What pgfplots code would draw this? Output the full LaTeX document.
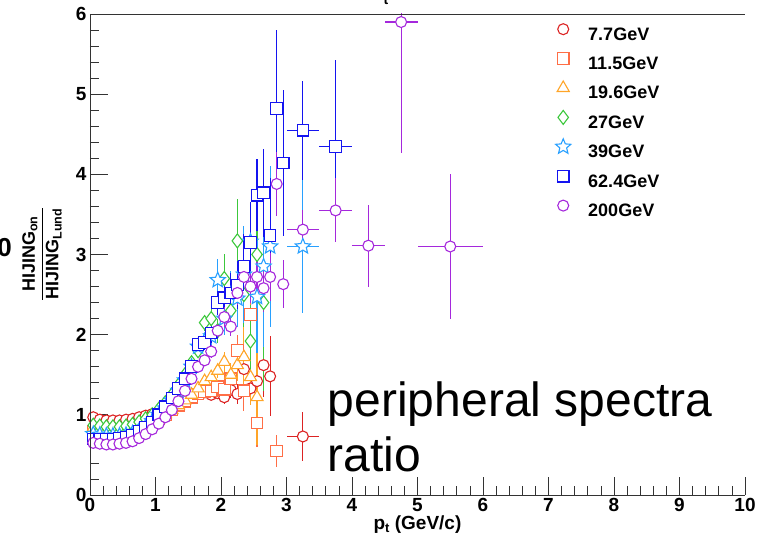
\documentclass[border=0pt]{standalone}
\usepackage{fontspec}
\setmainfont{Liberation Sans}
\usepackage{pgfplots}
\pgfplotsset{compat=1.18}
\usetikzlibrary{plotmarks}
\definecolor{c77}{RGB}{220,35,35}
\definecolor{c115}{RGB}{255,110,70}
\definecolor{c196}{RGB}{255,165,40}
\definecolor{c27}{RGB}{60,200,60}
\definecolor{c39}{RGB}{40,160,255}
\definecolor{c624}{RGB}{20,20,240}
\definecolor{c200}{RGB}{165,40,220}
\pgfdeclareplotmark{ostar}{%
  \pgfpathmoveto{\pgfqpointpolar{90}{\pgfplotmarksize}}%
  \pgfpathlineto{\pgfqpointpolar{126}{0.45\pgfplotmarksize}}%
  \pgfpathlineto{\pgfqpointpolar{162}{\pgfplotmarksize}}%
  \pgfpathlineto{\pgfqpointpolar{198}{0.45\pgfplotmarksize}}%
  \pgfpathlineto{\pgfqpointpolar{234}{\pgfplotmarksize}}%
  \pgfpathlineto{\pgfqpointpolar{270}{0.45\pgfplotmarksize}}%
  \pgfpathlineto{\pgfqpointpolar{306}{\pgfplotmarksize}}%
  \pgfpathlineto{\pgfqpointpolar{342}{0.45\pgfplotmarksize}}%
  \pgfpathlineto{\pgfqpointpolar{18}{\pgfplotmarksize}}%
  \pgfpathlineto{\pgfqpointpolar{54}{0.45\pgfplotmarksize}}%
  \pgfpathclose
  \pgfusepathqfillstroke}
\pgfplotsset{
  eb/.style={only marks,
    error bars/x dir=both, error bars/x explicit,
    error bars/y dir=both, error bars/y explicit,
    error bars/error mark=none,
    error bars/error bar style={line width=1.1pt},
    mark options={fill=white, line width=1.1pt, solid},
    legend image code/.code={\path[draw=none, fill=none, use as bounding box] (0pt,-2pt) rectangle (17pt,12pt);
      \draw[##1] plot coordinates {(8.5pt,6pt)};}},
}
\newcommand{\bfont}[1]{\bfseries\fontsize{#1}{#1}\selectfont}
\begin{document}
\begin{tikzpicture}
\begin{axis}[
  at={(0,0)}, anchor=south west,
  width=655pt, height=481pt, scale only axis,
  xmin=0, xmax=10, ymin=0, ymax=6,
  axis line style={draw=none},
  tick align=inside, tick pos=left,
  major tick length=18pt, minor tick length=9pt, minor tick num=4,
  tick style={black!80, line width=0.8pt},
  xtick={0,1,2,3,4,5,6,7,8,9,10}, xticklabels={0,1,2,3,4,5,6,7,8,9,10},
  ytick={0,1,2,3,4,5,6}, yticklabels={0,1,2,3,4,5,6},
  ticklabel style={font=\bfont{19}},
  xlabel={p\raisebox{-0.35ex}{\fontsize{13}{13}\selectfont t} (GeV/c)},
  xlabel style={font=\bfont{19}, at={(axis description cs:0.5,-0.0707)}, anchor=base},
  legend style={at={(axis description cs:0.7092,0.9813)}, anchor=north west,
    draw=none, fill=none, inner sep=0pt, row sep=10.4pt,
    font=\bfont{18},
    nodes={inner sep=0pt, text height=12pt, text depth=2pt},
    /tikz/every odd column/.append style={column sep=16.5pt}},
  legend cell align=left,
]
\addplot[eb, color=c77, mark=*, mark size=5.5pt] table[x=x,y=y,x error=ex,y error=ey] {
x y ex ey
0.05 0.97 0.05 0.01
0.15 0.94 0.05 0.01
0.25 0.93 0.05 0.01
0.35 0.93 0.05 0.01
0.45 0.93 0.05 0.01
0.55 0.94 0.05 0.01
0.65 0.95 0.05 0.01
0.75 0.97 0.05 0.01
0.85 0.99 0.05 0.01
0.95 1.01 0.05 0.015
1.05 1.04 0.05 0.015
1.15 1.08 0.05 0.02
1.25 1.12 0.05 0.02
1.35 1.16 0.05 0.025
1.45 1.20 0.05 0.03
1.55 1.24 0.05 0.035
1.65 1.27 0.05 0.04
1.75 1.28 0.05 0.05
1.85 1.25 0.05 0.06
1.95 1.27 0.05 0.07
2.05 1.22 0.05 0.08
2.15 1.31 0.05 0.10
2.25 1.26 0.05 0.12
2.35 1.57 0.05 0.15
2.45 1.33 0.05 0.18
2.55 1.42 0.05 0.30
2.65 1.62 0.05 0.40
2.75 1.48 0.05 0.50
3.25 0.73 0.25 0.30
};
\addlegendentry{7.7GeV}
\addplot[eb, color=c115, mark=square*, mark size=5.8pt] table[x=x,y=y,x error=ex,y error=ey] {
x y ex ey
0.05 0.80 0.05 0.01
0.15 0.79 0.05 0.01
0.25 0.78 0.05 0.01
0.35 0.78 0.05 0.01
0.45 0.78 0.05 0.01
0.55 0.79 0.05 0.01
0.65 0.80 0.05 0.01
0.75 0.82 0.05 0.01
0.85 0.86 0.05 0.01
0.95 0.90 0.05 0.015
1.05 0.95 0.05 0.015
1.15 1.00 0.05 0.02
1.25 1.06 0.05 0.02
1.35 1.12 0.05 0.025
1.45 1.17 0.05 0.03
1.55 1.22 0.05 0.035
1.65 1.26 0.05 0.04
1.75 1.29 0.05 0.05
1.85 1.30 0.05 0.06
1.95 1.35 0.05 0.08
2.05 1.32 0.05 0.10
2.15 1.45 0.05 0.15
2.25 1.80 0.05 0.20
2.35 1.30 0.05 0.25
2.45 2.25 0.05 0.35
2.55 0.90 0.05 0.30
2.85 0.55 0.05 0.20
};
\addlegendentry{11.5GeV}
\addplot[eb, color=c196, mark=triangle*, mark size=7pt] table[x=x,y=y,x error=ex,y error=ey] {
x y ex ey
0.05 0.84 0.05 0.01
0.15 0.83 0.05 0.01
0.25 0.82 0.05 0.01
0.35 0.82 0.05 0.01
0.45 0.82 0.05 0.01
0.55 0.82 0.05 0.01
0.65 0.83 0.05 0.01
0.75 0.85 0.05 0.01
0.85 0.88 0.05 0.01
0.95 0.92 0.05 0.015
1.05 0.96 0.05 0.015
1.15 1.01 0.05 0.02
1.25 1.06 0.05 0.02
1.35 1.12 0.05 0.025
1.45 1.18 0.05 0.03
1.55 1.25 0.05 0.04
1.65 1.33 0.05 0.05
1.75 1.42 0.05 0.06
1.85 1.47 0.05 0.07
1.95 1.55 0.05 0.09
2.05 1.66 0.05 0.12
2.15 1.50 0.05 0.15
2.25 1.62 0.05 0.20
2.35 1.72 0.05 0.45
2.45 1.47 0.05 0.35
2.55 1.22 0.05 0.60
};
\addlegendentry{19.6GeV}
\addplot[eb, color=c27, mark=diamond*, mark size=7pt] table[x=x,y=y,x error=ex,y error=ey] {
x y ex ey
0.05 0.87 0.05 0.01
0.15 0.86 0.05 0.01
0.25 0.85 0.05 0.01
0.35 0.85 0.05 0.01
0.45 0.85 0.05 0.01
0.55 0.86 0.05 0.01
0.65 0.88 0.05 0.01
0.75 0.91 0.05 0.01
0.85 0.95 0.05 0.01
0.95 1.00 0.05 0.015
1.05 1.07 0.05 0.015
1.15 1.15 0.05 0.02
1.25 1.25 0.05 0.025
1.35 1.37 0.05 0.03
1.45 1.50 0.05 0.04
1.55 1.65 0.05 0.05
1.65 1.80 0.05 0.07
1.75 2.15 0.05 0.10
1.85 2.20 0.05 0.12
1.95 2.05 0.05 0.15
2.05 2.70 0.05 0.30
2.15 2.30 0.05 0.30
2.25 3.17 0.05 0.52
2.35 2.50 0.05 0.40
2.45 1.92 0.05 0.45
2.55 3.00 0.05 0.70
2.65 2.40 0.05 1.10
};
\addlegendentry{27GeV}
\addplot[eb, color=c39, mark=ostar, mark size=8pt] table[x=x,y=y,x error=ex,y error=ey] {
x y ex ey
0.05 0.76 0.05 0.01
0.15 0.75 0.05 0.01
0.25 0.74 0.05 0.01
0.35 0.74 0.05 0.01
0.45 0.74 0.05 0.01
0.55 0.75 0.05 0.01
0.65 0.77 0.05 0.01
0.75 0.80 0.05 0.01
0.85 0.85 0.05 0.01
0.95 0.92 0.05 0.015
1.05 1.00 0.05 0.015
1.15 1.08 0.05 0.02
1.25 1.18 0.05 0.025
1.35 1.30 0.05 0.03
1.45 1.43 0.05 0.04
1.55 1.60 0.05 0.05
1.65 1.85 0.05 0.07
1.75 1.92 0.05 0.10
1.85 1.98 0.05 0.12
1.95 2.68 0.05 0.27
2.05 2.20 0.05 0.20
2.15 2.50 0.05 0.30
2.25 2.45 0.05 0.35
2.35 2.75 0.05 0.60
2.45 3.16 0.05 0.50
2.55 2.47 0.05 0.70
2.65 2.85 0.05 1.00
2.75 3.10 0.05 1.00
3.25 3.10 0.25 0.83
};
\addlegendentry{39GeV}
\addplot[eb, color=c624, mark=square*, mark size=5.8pt] table[x=x,y=y,x error=ex,y error=ey] {
x y ex ey
0.05 0.70 0.05 0.01
0.15 0.70 0.05 0.01
0.25 0.70 0.05 0.01
0.35 0.70 0.05 0.01
0.45 0.71 0.05 0.01
0.55 0.72 0.05 0.01
0.65 0.75 0.05 0.01
0.75 0.79 0.05 0.01
0.85 0.84 0.05 0.01
0.95 0.91 0.05 0.015
1.05 1.00 0.05 0.015
1.15 1.10 0.05 0.02
1.25 1.21 0.05 0.025
1.35 1.33 0.05 0.03
1.45 1.45 0.05 0.04
1.55 1.60 0.05 0.05
1.65 1.88 0.05 0.07
1.75 1.90 0.05 0.09
1.85 2.02 0.05 0.12
1.95 2.40 0.05 0.15
2.05 2.46 0.05 0.20
2.15 2.52 0.05 0.25
2.25 2.62 0.05 0.30
2.35 2.85 0.05 0.40
2.45 3.15 0.05 0.50
2.55 3.74 0.05 0.45
2.65 3.77 0.05 0.55
2.75 3.24 0.05 0.72
2.85 4.82 0.05 0.98
2.95 4.14 0.05 0.91
3.25 4.55 0.25 0.62
3.75 4.35 0.25 1.08
};
\addlegendentry{62.4GeV}
\addplot[eb, color=c200, mark=*, mark size=5.5pt] table[x=x,y=y,x error=ex,y error=ey] {
x y ex ey
0.05 0.65 0.05 0.01
0.15 0.64 0.05 0.01
0.25 0.63 0.05 0.01
0.35 0.63 0.05 0.01
0.45 0.64 0.05 0.01
0.55 0.65 0.05 0.01
0.65 0.67 0.05 0.01
0.75 0.71 0.05 0.01
0.85 0.76 0.05 0.01
0.95 0.82 0.05 0.015
1.05 0.89 0.05 0.015
1.15 0.97 0.05 0.02
1.25 1.06 0.05 0.02
1.35 1.17 0.05 0.03
1.45 1.30 0.05 0.04
1.55 1.45 0.05 0.05
1.65 1.60 0.05 0.06
1.75 1.68 0.05 0.07
1.85 1.79 0.05 0.08
1.95 2.05 0.05 0.10
2.05 2.22 0.05 0.12
2.15 2.10 0.05 0.12
2.25 2.52 0.05 0.15
2.35 2.72 0.05 0.20
2.45 2.60 0.05 0.20
2.55 2.72 0.05 0.25
2.65 2.58 0.05 0.30
2.75 2.72 0.05 0.30
2.85 3.88 0.05 0.40
2.95 2.63 0.05 0.30
3.25 3.31 0.25 0.25
3.75 3.55 0.25 0.40
4.25 3.11 0.25 0.51
4.75 5.90 0.25 1.64
5.50 3.10 0.50 0.90
};
\addlegendentry{200GeV}
\node[anchor=base west, font=\fontsize{48}{48}\selectfont, inner sep=0pt] at (axis cs:3.63,0.973) {peripheral spectra};
\node[anchor=base west, font=\fontsize{48}{48}\selectfont, inner sep=0pt] at (axis cs:3.63,0.287) {ratio};
\end{axis}
\draw[black!80, line width=0.9pt] (0,481pt) -- (0,0) -- (655pt,0);
\draw[black!80, line width=0.9pt] (0,481pt) -- (655pt,481pt);
\node[rotate=90, font=\bfont{18}, inner sep=0pt] at (-48pt,241pt)
  {$\displaystyle\frac{\mbox{\bfont{18}HIJING}_{\mbox{\bfont{12.5}on}}}{\mbox{\bfont{18}HIJING}_{\mbox{\bfont{12.5}Lund}}}$};
\node[anchor=east, font=\bfont{26}, inner sep=0pt] at (-78pt,247pt) {0};
\node[anchor=base, font=\bfont{14}, inner sep=0pt] at (296pt,490pt) {t};
\pgfresetboundingbox
\useasboundingbox (-90pt,-43pt) rectangle (667pt,495pt);
\end{tikzpicture}
\end{document}
